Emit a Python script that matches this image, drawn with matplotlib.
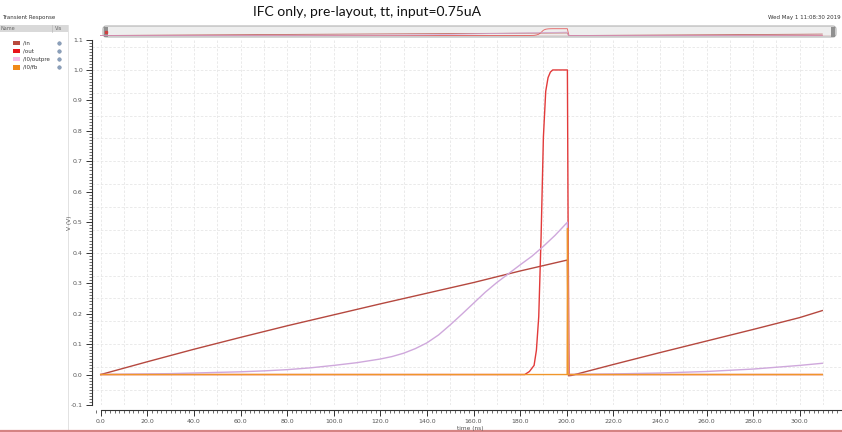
import matplotlib
matplotlib.use("Agg")
import matplotlib.pyplot as plt
from matplotlib.patches import FancyBboxPatch, Rectangle
from matplotlib.ticker import MultipleLocator, FormatStrFormatter

# ---------------- data ----------------
t_in = [0, 20, 40, 60, 80, 100, 120, 140, 160, 180, 200.3, 200.8, 202, 220, 240, 260, 280, 300, 309.7]
v_in = [0, 0.042, 0.083, 0.122, 0.16, 0.196, 0.232, 0.267, 0.302, 0.34, 0.376, -0.004, -0.003,
        0.033, 0.072, 0.11, 0.148, 0.187, 0.21]

t_out = [0, 182, 184, 186, 187, 188, 189, 190, 191, 192, 193, 194, 200.3, 200.6, 201, 309.7]
v_out = [0, 0, 0.01, 0.03, 0.08, 0.19, 0.45, 0.78, 0.93, 0.975, 0.993, 1.0, 1.0, 0.5, 0, 0]

t_pre = [0, 10, 20, 30, 40, 50, 60, 70, 80, 90, 100, 110, 120, 125, 130, 135, 140, 145, 150,
         155, 160, 165, 170, 175, 180, 185, 190, 195, 200.3, 200.8,
         220, 240, 260, 280, 300, 309.7]
v_pre = [0, 0.001, 0.002, 0.003, 0.005, 0.007, 0.009, 0.012, 0.016, 0.022, 0.03, 0.039, 0.051,
         0.059, 0.07, 0.085, 0.104, 0.13, 0.163, 0.198, 0.234, 0.27, 0.302, 0.331, 0.36, 0.388,
         0.421, 0.457, 0.5, 0.0,
         0.002, 0.005, 0.01, 0.018, 0.03, 0.037]

t_fb = [0, 200.2, 200.35, 200.6, 309.7]
v_fb = [0, 0, 0.48, 0, 0]

names = ["/in", "/out", "/I0/outpre", "/I0/fb"]
colors = ["#b5483f", "#e23a3a", "#cfa8dc", "#f0962a"]
title = "IFC only, pre-layout, tt, input=0.75uA"
stamp = "Wed May 1 11:08:30 2019"

W, H = 842, 432
fig = plt.figure(figsize=(W / 100, H / 100), dpi=100)
fig.patch.set_facecolor("white")

# overlay in pixel coordinates for decorations
fa = fig.add_axes([0, 0, 1, 1], zorder=0)
fa.set_xlim(0, W)
fa.set_ylim(H, 0)
fa.axis("off")

# main axes
x0pix, t0pix, scale = 91.7, 100.7, 2.33
ytop, ybot = 39.5, 405.0
ax = fig.add_axes([x0pix / W, (H - ybot) / H, (W - x0pix) / W, (ybot - ytop) / H], zorder=1)
ax.set_facecolor("none")
ax.set_xlim(-(t0pix - x0pix) / scale, (W - t0pix) / scale)
ax.set_ylim(-0.1, 1.1)

series = [(t_in, v_in), (t_out, v_out), (t_pre, v_pre), (t_fb, v_fb)]
for i, ((tt, vv), c) in enumerate(zip(series, colors)):
    ax.plot(tt, vv, color=c, lw=1.0, zorder=3 + i, solid_joinstyle="round")

for s in ["top", "right"]:
    ax.spines[s].set_visible(False)
ax.spines["bottom"].set_position(("outward", 3.6))
ax.spines["bottom"].set_bounds(0, ax.get_xlim()[1])
for s in ["left", "bottom"]:
    ax.spines[s].set_color("#333333")
    ax.spines[s].set_linewidth(0.8)

ax.xaxis.set_major_locator(MultipleLocator(20))
ax.xaxis.set_minor_locator(MultipleLocator(2))
ax.xaxis.set_major_formatter(FormatStrFormatter("%.1f"))
ax.yaxis.set_major_locator(MultipleLocator(0.1))
ax.yaxis.set_minor_locator(MultipleLocator(0.01))
ax.yaxis.set_major_formatter(FormatStrFormatter("%.1f"))
ax.tick_params(axis="both", which="major", length=4, width=0.7, color="#333333",
               labelsize=4.5, labelcolor="#555555", pad=2.5)
ax.tick_params(axis="both", which="minor", length=2, width=0.5, color="#333333")

# grid
for gx in range(0, 320, 10):
    ax.axvline(gx, color="#e6e6e6", lw=0.6, ls=(0, (3, 2)), zorder=1)
gy = -0.05
while gy < 1.1:
    ax.axhline(gy, color="#e6e6e6", lw=0.6, ls=(0, (3, 2)), zorder=1)
    gy += 0.075

# axis titles placed in pixel coordinates
fa.text(470, 428.5, "time (ns)", fontsize=4.2, color="#555555", ha="center", va="center")
fa.text(69, 223, "V (V)", fontsize=4.2, color="#555555", ha="center", va="center", rotation=90)

# title and stamp
fa.text(367, 12, title, ha="center", va="center", fontsize=10,
        family=["Liberation Sans Narrow", "Lato", "DejaVu Sans"], color="#111111")
fa.text(841, 17.5, stamp, ha="right", va="center", fontsize=4.0, color="#333333")

# legend panel
fa.text(2, 18, "Transient Response", fontsize=4.0, color="#333333", va="center")
fa.add_patch(Rectangle((0, 24.5), 68, 7, facecolor="#d9d9d9", edgecolor="none"))
fa.plot([68, 68], [24.5, 432], color="#dddddd", lw=0.6)
fa.plot([52, 52], [24.5, 31.5], color="#bbbbbb", lw=0.5)
fa.text(0.5, 28, "Name", fontsize=3.6, color="#666666", va="center")
fa.text(55, 28, "Vis", fontsize=3.6, color="#666666", va="center")
leg_sq = ["#b84a3e", "#e8141c", "#f4bce8", "#f08a1a"]
for i, (nm, c) in enumerate(zip(names, leg_sq)):
    yy = 42.8 + 8.2 * i
    fa.add_patch(Rectangle((13, yy - 2.3), 7, 4.6, facecolor=c, edgecolor="none"))
    fa.text(23, yy, nm, fontsize=4.0, color="#333333", va="center")
    fa.plot([58.5], [yy], marker="o", ms=2.6, color="#8aa0bc", mec="#6a7f9a", mew=0.3)

# scroll bar
fa.add_patch(FancyBboxPatch((103, 26), 733, 11, boxstyle="round,pad=0,rounding_size=3",
                            facecolor="#eeeeee", edgecolor="#a8a8a8", lw=0.7))
fa.add_patch(Rectangle((104, 26.5), 4, 10, facecolor="#909090", edgecolor="none"))
fa.add_patch(Rectangle((831, 26.5), 4, 10, facecolor="#909090", edgecolor="none"))
fa.plot([105.5], [31.5], marker="s", ms=1.5, color="#d04040")
fa.plot([106, 830], [34.5, 34.5], color="#e0d0d0", lw=0.6)

mini = fig.add_axes([x0pix / W, (H - 37) / H, (W - x0pix) / W, 11 / H], zorder=2)
mini.set_facecolor("none")
mini.set_xlim(ax.get_xlim())
mini.set_ylim(-0.22, 1.40)
mini.axis("off")
for (tt, vv), c in zip(series[:3], colors[:3]):
    mini.plot(tt, vv, color=c, lw=0.6, alpha=0.8)

# bottom red line
fa.plot([0, W], [431, 431], color="#d58383", lw=1.6, solid_capstyle="butt")

fig.savefig("out.png", dpi=100, facecolor="white")
